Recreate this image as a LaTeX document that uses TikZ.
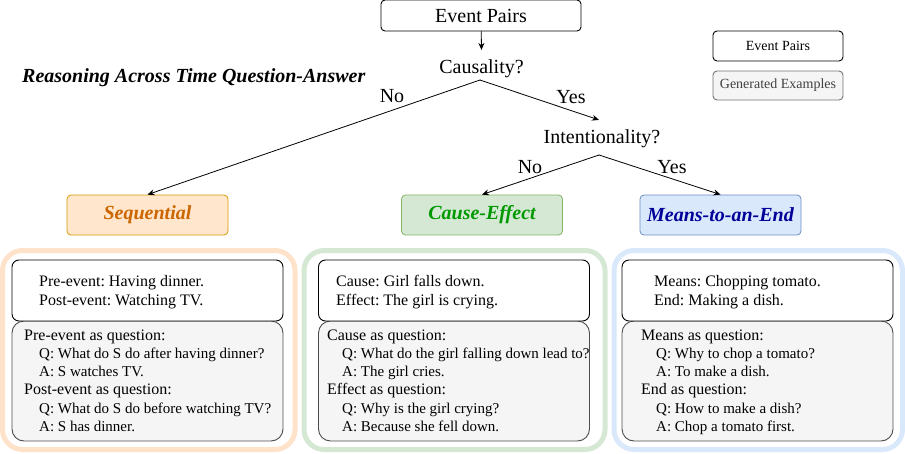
\documentclass[tikz,border=0pt]{standalone}
\usepackage{fontspec}
\setmainfont{Liberation Serif}
\usetikzlibrary{arrows.meta}
\frenchspacing
\definecolor{seqline}{RGB}{255,226,202}
\definecolor{seqfill}{RGB}{255,230,204}
\definecolor{seqdraw}{RGB}{215,155,0}
\definecolor{seqtext}{RGB}{204,102,0}
\definecolor{celine}{RGB}{213,232,212}
\definecolor{cefill}{RGB}{213,232,212}
\definecolor{cedraw}{RGB}{130,179,102}
\definecolor{cetext}{RGB}{0,153,0}
\definecolor{meline}{RGB}{218,232,252}
\definecolor{mefill}{RGB}{218,232,252}
\definecolor{medraw}{RGB}{108,142,191}
\definecolor{metext}{RGB}{0,0,153}
\tikzset{
    arr/.style = {-{Stealth[length=7pt,width=6pt]}, line width=0.8pt},
    frame/.style = {line width=5pt, rounded corners=20pt},
    pairbox/.style = {draw, fill=white, line width=0.9pt, rounded corners=7pt,
        minimum width=271pt, minimum height=61pt},
    genbox/.style = {draw=black!70, fill=black!4, line width=0.9pt, rounded corners=12pt,
        minimum width=271pt, minimum height=120pt},
    catbox/.style = {rounded corners=4pt, line width=0.8pt, minimum width=161pt, minimum height=40pt,
        font=\fontsize{20}{24}\selectfont\bfseries\itshape},
    bigtext/.style = {inner sep=0pt, font=\fontsize{20}{24}\selectfont},
    pairtext/.style = {inner sep=0pt, anchor=north west, align=left, font=\fontsize{16}{18.5}\selectfont},
    gentext/.style = {inner sep=0pt, anchor=north west, align=left, font=\fontsize{16}{18.2}\selectfont}
}
\newcommand{\qaline}[1]{\hspace*{15pt}{\fontsize{15}{18.2}\selectfont #1}}

\begin{document}
\begin{tikzpicture}[line cap=round,line join=round,x=1pt,y=-1pt]
    \useasboundingbox (0,0) rectangle (905,453);

    % decision tree
    \node[draw, rounded corners=4pt, line width=0.9pt, minimum width=200pt, minimum height=31pt,
        font=\fontsize{20}{24}\selectfont] (pairs) at (481,15.5) {Event Pairs};
    \node[bigtext, anchor=base] (caus) at (481.5,73) {Causality?};
    \node[bigtext, anchor=base] (inten) at (602,143) {Intentionality?};
    \node[anchor=base west, inner sep=0pt, font=\fontsize{20}{24}\selectfont\bfseries\itshape] (title)
        at (22,82.7) {Reasoning Across Time Question-Answer};

    \node[catbox, fill=seqfill, draw=seqdraw, text=seqtext] (seq) at (147.5,215) {Sequential};
    \node[catbox, fill=cefill, draw=cedraw, text=cetext] (ce) at (482,215) {Cause-Effect};
    \node[catbox, fill=mefill, draw=medraw, text=metext] (me) at (720.5,215) {Means-to-an-End};

    \coordinate (cpeak) at (480,80);
    \coordinate (ipeak) at (599,155);
    \draw[arr] (pairs) -- ([yshift=9pt]caus.north);
    \draw[arr] (cpeak) -- (seq.north);
    \draw[arr] (cpeak) -- ([xshift=-3pt,yshift=9pt]inten.north);
    \draw[arr] (ipeak) -- (ce.north);
    \draw[arr] (ipeak) -- (me.north);

    \node[bigtext, anchor=base] (no1) at (392,102.7) {No};
    \node[bigtext, anchor=base] (yes1) at (571,103) {Yes};
    \node[bigtext, anchor=base] (no2) at (530,173.3) {No};
    \node[bigtext, anchor=base] (yes2) at (672,173.3) {Yes};

    % legend
    \node[draw, rounded corners=4pt, line width=0.9pt, minimum width=130pt, minimum height=30pt,
        font=\fontsize{14}{17}\selectfont] (legpairs) at (778,46) {Event Pairs};
    \node[draw=black!55, fill=black!4, text=black!75, rounded corners=4pt, line width=0.9pt,
        minimum width=130pt, minimum height=29pt, font=\fontsize{14}{17}\selectfont] (leggen)
        at (778,85.5) {Generated Examples};

    % example panels
    \draw[frame, draw=seqline] (2.5,250.5) rectangle (295,449.5);
    \draw[frame, draw=celine] (304,250.5) rectangle (605,449.5);
    \draw[frame, draw=meline] (614,250.5) rectangle (902.5,449.5);

    \node[genbox] (seqgen) at (147.5,381) {};
    \node[pairbox] (seqpair) at (147.5,290.5) {};
    \node[genbox] (cegen) at (454,381) {};
    \node[pairbox] (cepair) at (454,290.5) {};
    \node[genbox] (megen) at (757.5,381) {};
    \node[pairbox] (mepair) at (757.5,290.5) {};

    \node[pairtext] (seqpt) at (39,274.5) {\rule{0pt}{12pt}Pre-event: Having dinner.\\Post-event: Watching TV.};
    \node[pairtext] (cept) at (336,274.5) {\rule{0pt}{12pt}Cause: Girl falls down.\\Effect: The girl is crying.};
    \node[pairtext] (mept) at (654,274.5) {\rule{0pt}{12pt}Means: Chopping tomato.\\End: Making a dish.};

    \node[gentext] (seqgt) at (24,328) {\rule{0pt}{12pt}Pre-event as question:\\
        \qaline{Q: What do S do after having dinner?}\\
        \qaline{A: S watches TV.}\\
        Post-event as question:\\
        \qaline{Q: What do S do before watching TV?}\\
        \qaline{A: S has dinner.}};
    \node[gentext] (cegt) at (327,328) {\rule{0pt}{12pt}Cause as question:\\
        \qaline{Q: What do the girl falling down lead to?}\\
        \qaline{A: The girl cries.}\\
        Effect as question:\\
        \qaline{Q: Why is the girl crying?}\\
        \qaline{A: Because she fell down.}};
    \node[gentext] (megt) at (641,328) {\rule{0pt}{12pt}Means as question:\\
        \qaline{Q: Why to chop a tomato?}\\
        \qaline{A: To make a dish.}\\
        End as question:\\
        \qaline{Q: How to make a dish?}\\
        \qaline{A: Chop a tomato first.}};
\end{tikzpicture}
\end{document}
